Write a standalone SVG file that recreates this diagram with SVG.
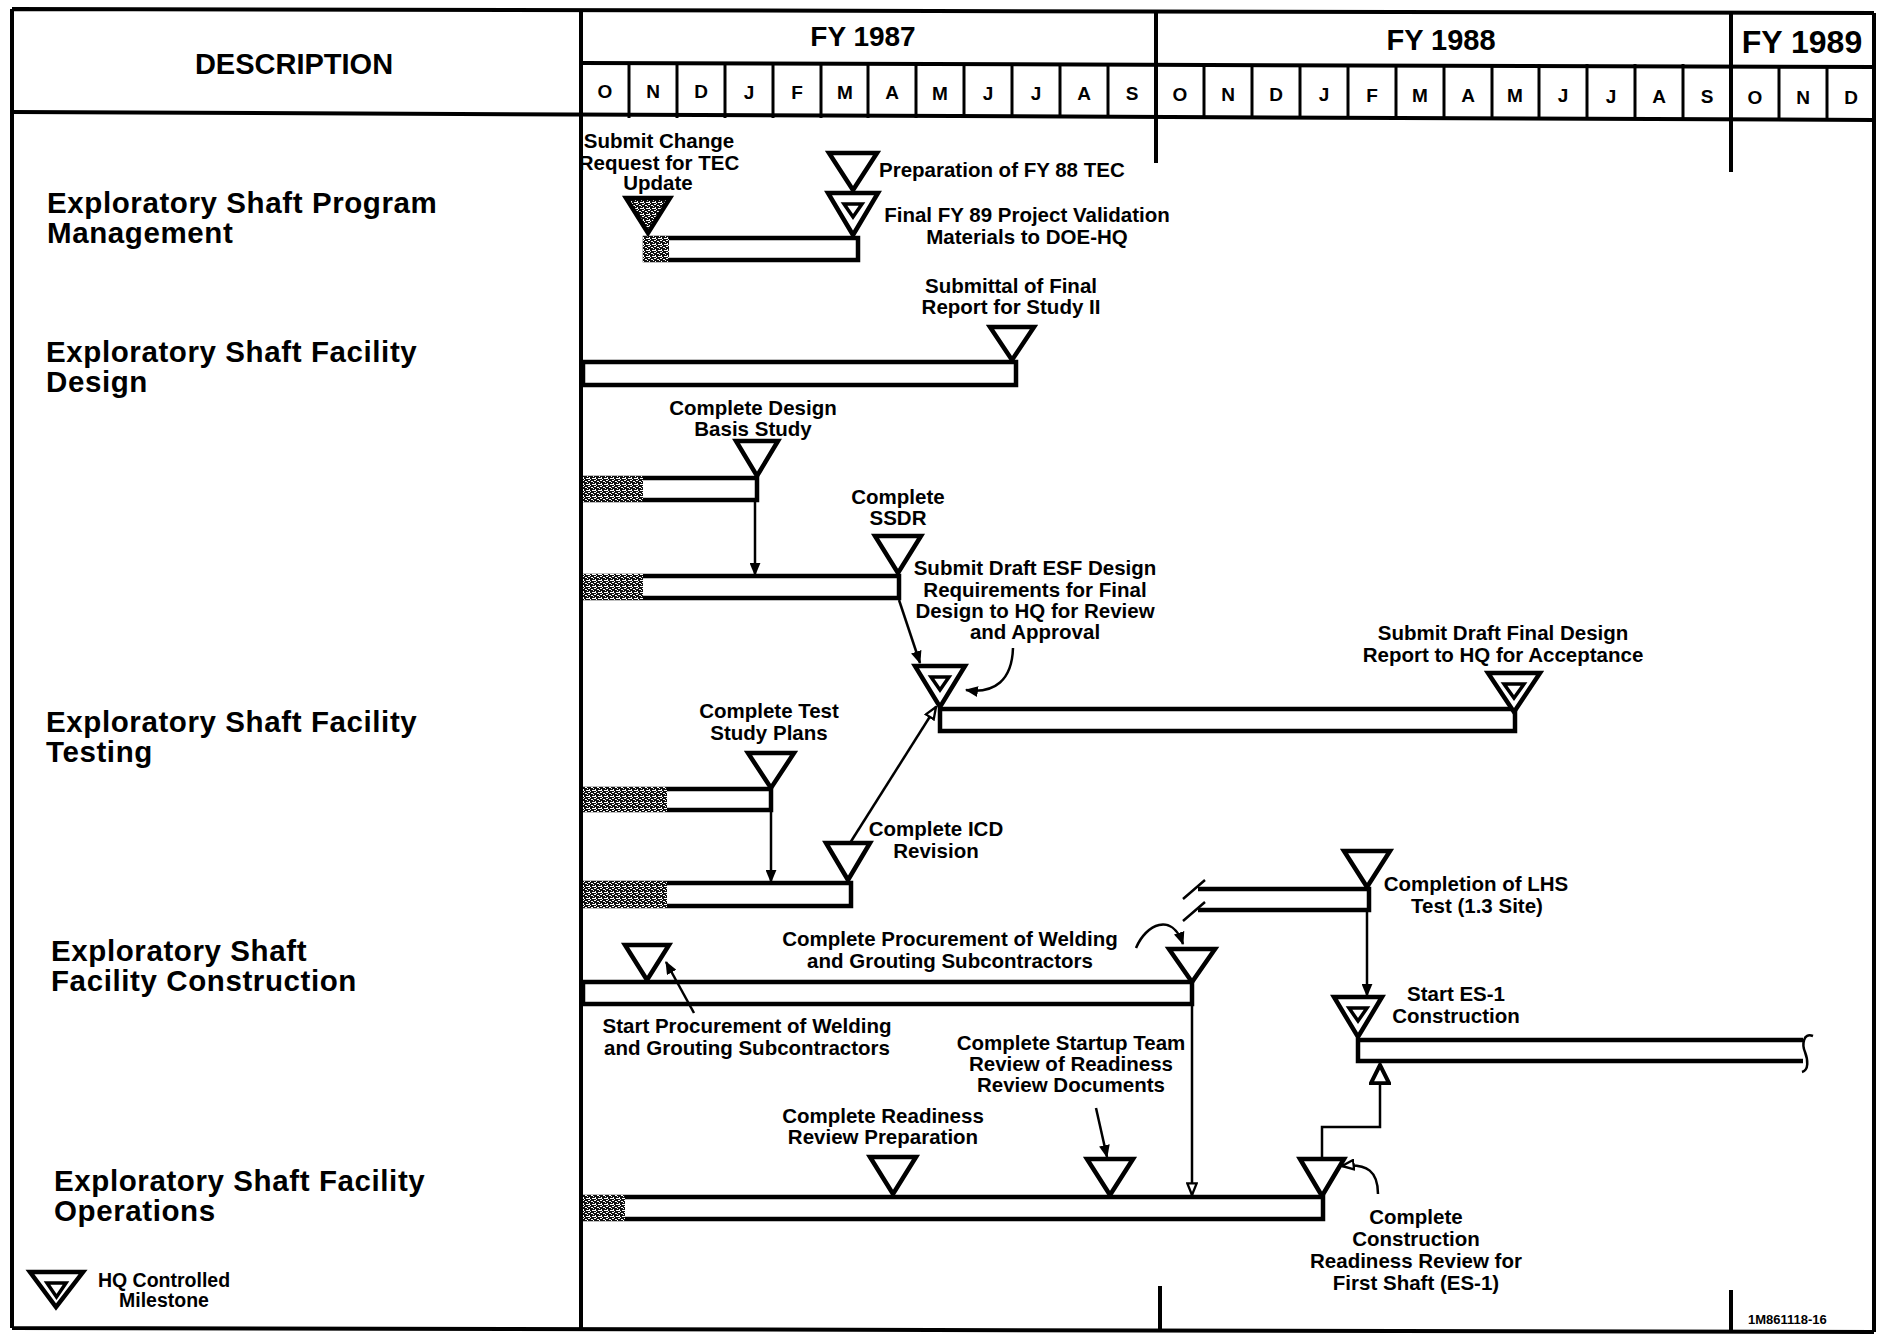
<svg xmlns="http://www.w3.org/2000/svg" width="1883" height="1337" viewBox="0 0 1883 1337">
<style>
.ln{stroke:#000;fill:none;stroke-width:4}
.sep{stroke:#000;stroke-width:3}
.bar{fill:#fff;stroke:#000;stroke-width:4.5}
.barl{fill:none;stroke:#000;stroke-width:4.5}
.tri{fill:#fff;stroke:#000;stroke-width:4.5;stroke-linejoin:miter}
.inn{fill:none;stroke:#000;stroke-width:3.5}
.conn{fill:none;stroke:#000;stroke-width:2.5}
text{font-family:'Liberation Sans',Arial,sans-serif;font-weight:bold;fill:#000}
.lb{font-size:20.5px;text-anchor:middle}
.lbs{font-size:20.5px;text-anchor:start}
.desc{font-size:29.5px;letter-spacing:0.6px}
.mo{font-size:19px;text-anchor:middle}
.fy{text-anchor:middle}
.leg{font-size:19.5px;text-anchor:middle}
</style>
<defs>
<pattern id="stip" width="6" height="6" patternUnits="userSpaceOnUse">
<rect width="6" height="6" fill="#111"/>
<rect x="0" y="0" width="2" height="1" fill="#fff"/>
<rect x="3" y="1" width="2" height="1" fill="#fff"/>
<rect x="1" y="3" width="1" height="2" fill="#fff"/>
<rect x="4" y="4" width="2" height="1" fill="#fff"/>
<rect x="2" y="5" width="1" height="1" fill="#fff"/>
<rect x="5" y="2" width="1" height="1" fill="#fff"/>
<rect x="0" y="4" width="1" height="1" fill="#fff"/>
</pattern>
<marker id="ah" viewBox="0 0 12 10" refX="11" refY="5" markerWidth="13" markerHeight="11" markerUnits="userSpaceOnUse" orient="auto"><path d="M0,0 L12,5 L0,10 z" fill="#000"/></marker>
<marker id="ao" viewBox="0 0 12 10" refX="11" refY="5" markerWidth="14" markerHeight="12" markerUnits="userSpaceOnUse" orient="auto"><path d="M1,1 L11,5 L1,9 z" fill="#fff" stroke="#000" stroke-width="2"/></marker>
<marker id="aob" viewBox="0 0 12 12" refX="11" refY="6" markerWidth="22" markerHeight="22" markerUnits="userSpaceOnUse" orient="auto"><path d="M1,1 L11,6 L1,11 z" fill="#fff" stroke="#000" stroke-width="2.2"/></marker>
</defs>
<rect width="1883" height="1337" fill="#fff"/>

<g id="frame">
<path class="ln" d="M12,9 L1874,13 M12,1328 L1874,1332 M12,9 L12,1328 M1874,13 L1874,1332"/>
<path class="ln" stroke-width="4.5" d="M12,112 L1874,120"/>
<path class="ln" stroke-width="3.5" d="M581,63 L1874,67"/>
<path class="ln" d="M581,9 L581,1330"/>
<path class="ln" stroke-width="3.5" d="M1156,10 L1156,163 M1731,12 L1731,172 M1160,1286 L1160,1330 M1731,1290 L1731,1332"/>
<g class="sep">
<line x1="629" y1="64" x2="629" y2="118"/><line x1="677" y1="64" x2="677" y2="118"/><line x1="725" y1="64" x2="725" y2="118"/><line x1="773" y1="64" x2="773" y2="118"/><line x1="821" y1="64" x2="821" y2="118"/><line x1="868" y1="64" x2="868" y2="118"/><line x1="916" y1="64" x2="916" y2="118"/><line x1="964" y1="64" x2="964" y2="118"/><line x1="1012" y1="64" x2="1012" y2="118"/><line x1="1060" y1="64" x2="1060" y2="118"/><line x1="1108" y1="64" x2="1108" y2="118"/>
<line x1="1204" y1="64" x2="1204" y2="118"/><line x1="1252" y1="64" x2="1252" y2="118"/><line x1="1300" y1="64" x2="1300" y2="118"/><line x1="1348" y1="64" x2="1348" y2="118"/><line x1="1396" y1="64" x2="1396" y2="118"/><line x1="1444" y1="64" x2="1444" y2="118"/><line x1="1492" y1="64" x2="1492" y2="118"/><line x1="1539" y1="64" x2="1539" y2="118"/><line x1="1587" y1="64" x2="1587" y2="118"/><line x1="1635" y1="64" x2="1635" y2="118"/><line x1="1683" y1="64" x2="1683" y2="118"/>
<line x1="1779" y1="66" x2="1779" y2="119"/><line x1="1827" y1="66" x2="1827" y2="119"/>
</g>
<text x="294" y="74" font-size="29" text-anchor="middle">DESCRIPTION</text>
<text class="fy" x="863" y="46" font-size="28">FY 1987</text>
<text class="fy" x="1441" y="50" font-size="29">FY 1988</text>
<text class="fy" x="1802" y="53" font-size="32">FY 1989</text>
<g class="mo">
<text class="mo" x="605" y="98">O</text><text class="mo" x="653" y="98">N</text><text class="mo" x="701" y="98">D</text><text class="mo" x="749" y="99">J</text><text class="mo" x="797" y="99">F</text><text class="mo" x="845" y="99">M</text><text class="mo" x="892" y="99">A</text><text class="mo" x="940" y="100">M</text><text class="mo" x="988" y="100">J</text><text class="mo" x="1036" y="100">J</text><text class="mo" x="1084" y="100">A</text><text class="mo" x="1132" y="100">S</text>
<text class="mo" x="1180" y="101">O</text><text class="mo" x="1228" y="101">N</text><text class="mo" x="1276" y="101">D</text><text class="mo" x="1324" y="101">J</text><text class="mo" x="1372" y="102">F</text><text class="mo" x="1420" y="102">M</text><text class="mo" x="1468" y="102">A</text><text class="mo" x="1515" y="102">M</text><text class="mo" x="1563" y="102">J</text><text class="mo" x="1611" y="103">J</text><text class="mo" x="1659" y="103">A</text><text class="mo" x="1707" y="103">S</text>
<text class="mo" x="1755" y="104">O</text><text class="mo" x="1803" y="104">N</text><text class="mo" x="1851" y="104">D</text>
</g>
<text x="1748" y="1324" font-size="13">1M861118-16</text>
</g>

<g id="descriptions">
<text class="desc" x="47" y="213">Exploratory Shaft Program</text>
<text class="desc" x="47" y="243">Management</text>
<text class="desc" x="46" y="362">Exploratory Shaft Facility</text>
<text class="desc" x="46" y="392">Design</text>
<text class="desc" x="46" y="732">Exploratory Shaft Facility</text>
<text class="desc" x="46" y="762">Testing</text>
<text class="desc" x="51" y="961">Exploratory Shaft</text>
<text class="desc" x="51" y="991">Facility Construction</text>
<text class="desc" x="54" y="1191">Exploratory Shaft Facility</text>
<text class="desc" x="54" y="1221">Operations</text>
</g>

<g id="legend">
<polygon class="tri" stroke-width="5" points="30,1272 83,1272 56,1307"/>
<polygon class="inn" points="47,1283 66,1283 56.5,1297"/>
<text class="leg" x="164" y="1287">HQ Controlled</text>
<text class="leg" x="164" y="1307">Milestone</text>
</g>

<g id="bars">
<g id="bar-program"><rect class="bar" x="645" y="238" width="213" height="22"/><rect x="643" y="236" width="26" height="26" fill="url(#stip)"/></g>
<g id="bar-design-study2"><rect class="bar" x="583" y="362" width="433" height="23"/></g>
<g id="bar-design-basis"><rect class="bar" x="583" y="478" width="174" height="22"/><rect x="583" y="476" width="60" height="26" fill="url(#stip)"/></g>
<g id="bar-design-ssdr"><rect class="bar" x="583" y="576" width="316" height="22"/><rect x="583" y="574" width="60" height="26" fill="url(#stip)"/></g>
<g id="bar-final-design"><rect class="bar" x="940" y="709" width="575" height="22"/></g>
<g id="bar-test-plans"><rect class="bar" x="583" y="789" width="188" height="21"/><rect x="583" y="787" width="84" height="25" fill="url(#stip)"/></g>
<g id="bar-icd"><rect class="bar" x="583" y="883" width="268" height="23"/><rect x="583" y="881" width="84" height="27" fill="url(#stip)"/></g>
<g id="bar-construction"><rect class="bar" x="583" y="982" width="609" height="22"/></g>
<g id="bar-lhs"><path class="barl" d="M1198,889 L1369,889 L1369,910 L1198,910"/><path class="conn" stroke-width="3" d="M1183,899 L1205,880 M1183,921 L1205,902"/></g>
<g id="bar-es1"><path class="barl" d="M1803,1040 L1358,1040 L1358,1061 L1803,1061"/><path class="conn" stroke-width="4" d="M1813,1036 C1803,1032 1802,1045 1805,1052 C1808,1060 1809,1070 1802,1072"/></g>
<g id="bar-operations"><rect class="bar" x="583" y="1197" width="740" height="22"/><rect x="583" y="1195" width="42" height="26" fill="url(#stip)"/></g>
</g>

<g id="connectors">
<line class="conn" x1="755" y1="502" x2="755" y2="575" marker-end="url(#ah)"/>
<line class="conn" x1="771" y1="811" x2="771" y2="882" marker-end="url(#ah)"/>
<line class="conn" x1="899" y1="600" x2="920" y2="663" marker-end="url(#ah)"/>
<path class="conn" d="M1013,648 C1012,680 995,694 966,690" marker-end="url(#ah)"/>
<line class="conn" x1="850" y1="843" x2="936" y2="707" marker-end="url(#ao)"/>
<line class="conn" x1="694" y1="1013" x2="666" y2="962" marker-end="url(#ah)"/>
<path class="conn" d="M1136,948 C1146,924 1172,912 1183,944" marker-end="url(#ah)"/>
<line class="conn" x1="1367" y1="911" x2="1367" y2="996" marker-end="url(#ah)"/>
<line class="conn" x1="1192" y1="1005" x2="1192" y2="1195" marker-end="url(#ao)"/>
<line class="conn" x1="1096" y1="1108" x2="1107" y2="1157" marker-end="url(#ah)"/>
<path class="conn" stroke-width="4" d="M1322,1159 L1322,1127 L1380,1127 L1380,1065" marker-end="url(#aob)"/>
<path class="conn" d="M1378,1194 C1378,1172 1368,1163 1342,1166" marker-end="url(#ao)"/>
</g>

<g id="m-submit-change"><polygon class="tri" points="626,198 670,198 648,233" style="fill:url(#stip)"/>
<text class="lb" x="659" y="148">Submit Change</text><text class="lb" x="659" y="170">Request for TEC</text><text class="lb" x="658" y="190">Update</text></g>
<g id="m-prep-fy88"><polygon class="tri" points="829,153 877,153 853,190"/><text class="lbs" x="879" y="177">Preparation of FY 88 TEC</text></g>
<g id="m-final-fy89"><polygon class="tri" points="828,193 878,193 853,235"/><polygon class="inn" points="844,204 862,204 853,217"/>
<text class="lb" x="1027" y="222">Final FY 89 Project Validation</text><text class="lb" x="1027" y="244">Materials to DOE-HQ</text></g>
<g id="m-study2"><polygon class="tri" points="990,327 1034,327 1012,360"/><text class="lb" x="1011" y="293">Submittal of Final</text><text class="lb" x="1011" y="314">Report for Study II</text></g>
<g id="m-design-basis"><polygon class="tri" points="736,441 778,441 757,476"/><text class="lb" x="753" y="415">Complete Design</text><text class="lb" x="753" y="436">Basis Study</text></g>
<g id="m-ssdr"><polygon class="tri" points="875,536 921,536 898,573"/><text class="lb" x="898" y="504">Complete</text><text class="lb" x="898" y="525">SSDR</text></g>
<g id="m-draft-esf"><polygon class="tri" points="915,666 965,666 940,707"/><polygon class="inn" points="931,677 949,677 940,690"/>
<text class="lb" x="1035" y="575">Submit Draft ESF Design</text><text class="lb" x="1035" y="597">Requirements for Final</text><text class="lb" x="1035" y="618">Design to HQ for Review</text><text class="lb" x="1035" y="639">and Approval</text></g>
<g id="m-final-design"><polygon class="tri" points="1488,673 1540,673 1514,712"/><polygon class="inn" points="1504,684 1524,684 1514,698"/>
<text class="lb" x="1503" y="640">Submit Draft Final Design</text><text class="lb" x="1503" y="662">Report to HQ for Acceptance</text></g>
<g id="m-test-plans"><polygon class="tri" points="748,753 794,753 771,788"/><text class="lb" x="769" y="718">Complete Test</text><text class="lb" x="769" y="740">Study Plans</text></g>
<g id="m-icd"><polygon class="tri" points="826,843 870,843 848,880"/><text class="lb" x="936" y="836">Complete ICD</text><text class="lb" x="936" y="858">Revision</text></g>
<g id="m-start-proc"><polygon class="tri" points="625,945 669,945 647,980"/><text class="lb" x="747" y="1033">Start Procurement of Welding</text><text class="lb" x="747" y="1055">and Grouting Subcontractors</text></g>
<g id="m-complete-proc"><polygon class="tri" points="1169,949 1215,949 1192,982"/><text class="lb" x="950" y="946">Complete Procurement of Welding</text><text class="lb" x="950" y="968">and Grouting Subcontractors</text></g>
<g id="m-lhs"><polygon class="tri" points="1344,851 1390,851 1367,887"/><text class="lb" x="1476" y="891">Completion of LHS</text><text class="lb" x="1477" y="913">Test (1.3 Site)</text></g>
<g id="m-es1"><polygon class="tri" points="1334,997 1382,997 1358,1037"/><polygon class="inn" points="1349,1008 1367,1008 1358,1021"/>
<text class="lb" x="1456" y="1001">Start ES-1</text><text class="lb" x="1456" y="1023">Construction</text></g>
<g id="m-readiness-prep"><polygon class="tri" points="870,1157 916,1157 893,1194"/><text class="lb" x="883" y="1123">Complete Readiness</text><text class="lb" x="883" y="1144">Review Preparation</text></g>
<g id="m-startup-review"><polygon class="tri" points="1087,1159 1133,1159 1110,1195"/><text class="lb" x="1071" y="1050">Complete Startup Team</text><text class="lb" x="1071" y="1071">Review of Readiness</text><text class="lb" x="1071" y="1092">Review Documents</text></g>
<g id="m-const-readiness"><polygon class="tri" points="1300,1159 1344,1159 1322,1196"/><text class="lb" x="1416" y="1224">Complete</text><text class="lb" x="1416" y="1246">Construction</text><text class="lb" x="1416" y="1268">Readiness Review for</text><text class="lb" x="1416" y="1290">First Shaft (ES-1)</text></g>
</svg>
